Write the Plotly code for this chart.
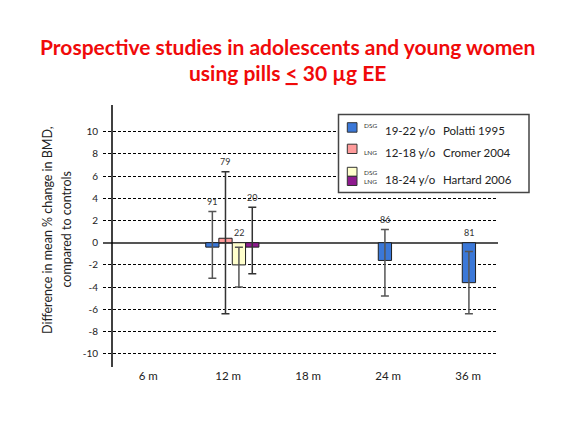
import plotly.graph_objects as go

# ---------------- data ----------------
categories = ["6 m", "12 m", "18 m", "24 m", "36 m"]
y_ticks = [-10, -8, -6, -4, -2, 0, 2, 4, 6, 8, 10]

polatti_x = ["12 m", "24 m", "36 m"]
polatti_val = [-0.4, -1.6, -3.6]
polatti_plus = [3.2, 2.8, 2.8]
polatti_minus = [2.8, 3.2, 2.8]
polatti_n = [91, 86, 81]

cromer_x = ["12 m"]
cromer_val = [0.4]
cromer_plus = [6.0]
cromer_minus = [6.8]
cromer_n = [79]

hartard_dsg_x = ["12 m"]
hartard_dsg_val = [-2.0]
hartard_dsg_plus = [1.6]
hartard_dsg_minus = [2.0]
hartard_dsg_n = [22]

hartard_lng_x = ["12 m"]
hartard_lng_val = [-0.4]
hartard_lng_plus = [3.6]
hartard_lng_minus = [2.4]
hartard_lng_n = [20]

legend_rows = [
    (["DSG"], "19-22 y/o", "Polatti 1995"),
    (["LNG"], "12-18 y/o", "Cromer 2004"),
    (["DSG", "LNG"], "18-24 y/o", "Hartard 2006"),
]

title_lines = ["Prospective studies in adolescents and young women",
               "using pills <u>&lt;</u> 30 µg EE"]
y_title_lines = ["Difference in mean % change in BMD,", "compared to controls"]

# ---------------- layout geometry (pixels in the 566x428 window) ----------------
PAGE_MARGIN = 8  # default body margin of the html page
W, H = 566 - 2 * PAGE_MARGIN, 428 - 2 * PAGE_MARGIN
L, R, T, B = 103, 498, 105, 367   # plot area in window pixels
FONT = "Lato"

def px2x(px):
    return (px - L) / (R - L)

def py2y(py):
    return (B - py) / (B - T)

BLUE, PINK, YELLOW, PURPLE = "#3b78d8", "#ff9b9b", "#ffffcc", "#8e1a8e"
BAR_W = 0.166

series = [
    dict(x=polatti_x, v=polatti_val, p=polatti_plus, m=polatti_minus, n=polatti_n,
         color=BLUE, off=[-0.281, -0.124, -0.074], ecol="#555555"),
    dict(x=cromer_x, v=cromer_val, p=cromer_plus, m=cromer_minus, n=cromer_n,
         color=PINK, off=[-0.117], ecol="#333333"),
    dict(x=hartard_dsg_x, v=hartard_dsg_val, p=hartard_dsg_plus, m=hartard_dsg_minus,
         n=hartard_dsg_n, color=YELLOW, off=[0.051], ecol="#555555"),
    dict(x=hartard_lng_x, v=hartard_lng_val, p=hartard_lng_plus, m=hartard_lng_minus,
         n=hartard_lng_n, color=PURPLE, off=[0.218], ecol="#333333"),
]

fig = go.Figure()
annotations = []
for s in series:
    xi = [categories.index(c) for c in s["x"]]
    fig.add_trace(go.Bar(
        x=xi, y=s["v"], width=BAR_W, offset=s["off"],
        marker=dict(color=s["color"], line=dict(color="#1e1e1e", width=1)),
        error_y=dict(type="data", symmetric=False, array=s["p"], arrayminus=s["m"],
                     color=s["ecol"], thickness=1.5, width=4),
        showlegend=False, hoverinfo="skip",
    ))
    for i, v, p, n, o in zip(xi, s["v"], s["p"], s["n"], s["off"]):
        annotations.append(dict(
            x=i + o + BAR_W / 2, y=max(0, v + p), xref="x", yref="y",
            text=str(n), showarrow=False, yanchor="middle", yshift=10,
            font=dict(size=9, color="#333333", family=FONT)))

# x range so that category 1 sits at px 228 and spacing is 80 px
x0 = 1 + (L - 228.2) / 80
x1 = 1 + (R - 228.2) / 80
axis_x = 1 + (112 - 228.2) / 80

shapes = [
    dict(type="line", xref="x", yref="paper", x0=axis_x, x1=axis_x, y0=0, y1=1,
         line=dict(color="black", width=1.5)),
    # legend box
    dict(type="rect", xref="paper", yref="paper",
         x0=px2x(338.5), x1=px2x(529), y0=py2y(114.5), y1=py2y(192.5),
         line=dict(color="#444444", width=1.5), fillcolor="white"),
]

swatches = [[(122.7, 132.2, BLUE)], [(144.2, 153.5, PINK)],
            [(167.3, 176.3, YELLOW), (176.3, 185.5, PURPLE)]]
sub_y = [[125.7], [152.2], [172.7, 181.7]]
text_y = [130.2, 152.5, 179.5]
for (subs, age, study), sw, sy, ty in zip(legend_rows, swatches, sub_y, text_y):
    for (ya, yb, col) in sw:
        shapes.append(dict(type="rect", xref="paper", yref="paper",
                           x0=px2x(347.3), x1=px2x(357), y0=py2y(yb), y1=py2y(ya),
                           line=dict(color="#333333", width=1), fillcolor=col))
    for sub, yy in zip(subs, sy):
        annotations.append(dict(x=px2x(361.5), y=py2y(yy), xref="paper", yref="paper",
                                text=sub, showarrow=False, xanchor="left", yanchor="middle",
                                font=dict(size=6.5, color="#333333", family=FONT)))
    annotations.append(dict(x=px2x(383), y=py2y(ty), xref="paper", yref="paper",
                            text=age, showarrow=False, xanchor="left", yanchor="middle",
                            font=dict(size=11.5, color="#222222", family=FONT)))
    annotations.append(dict(x=px2x(441), y=py2y(ty), xref="paper", yref="paper",
                            text=study, showarrow=False, xanchor="left", yanchor="middle",
                            font=dict(size=11.5, color="#222222", family=FONT)))

# title (two lines)
for line, yy in zip(title_lines, [47, 72]):
    annotations.append(dict(
        x=px2x(287), y=py2y(yy), xref="paper", yref="paper",
        text="<b>" + line + "</b>", showarrow=False, xanchor="center", yanchor="middle",
        font=dict(size=21, color="#f00a0a", family=FONT)))

# y axis title (two lines)
for line, xx in zip(y_title_lines, [47, 65.5]):
    annotations.append(dict(x=px2x(xx), y=py2y(230), xref="paper", yref="paper",
                            text=line, textangle=-90,
                            showarrow=False, xanchor="center", yanchor="middle",
                            font=dict(size=12.5, color="#222222", family=FONT)))

fig.update_layout(
    width=W, height=H,
    margin=dict(l=L - PAGE_MARGIN, r=W + PAGE_MARGIN - R, t=T - PAGE_MARGIN,
                b=H + PAGE_MARGIN - B, pad=0),
    paper_bgcolor="white", plot_bgcolor="white",
    barmode="overlay",
    font=dict(family=FONT, color="#222222"),
    shapes=shapes, annotations=annotations,
    xaxis=dict(range=[x0, x1], tickmode="array", tickvals=list(range(len(categories))),
               ticktext=categories, showgrid=False, zeroline=False, showline=False,
               ticks="", tickfont=dict(size=11.5, color="#222222", family=FONT)),
    yaxis=dict(range=[(242.7 - B) / 11.1, (242.7 - T) / 11.1], tickmode="array",
               tickvals=y_ticks, ticktext=[str(t) for t in y_ticks],
               showgrid=True, gridcolor="black", gridwidth=1, griddash="3px,2px",
               zeroline=True, zerolinecolor="#555555", zerolinewidth=1.5,
               showline=False, ticks="", ticklabelstandoff=4,
               tickfont=dict(size=10, color="#222222", family=FONT)),
)

fig.write_html("out.html")
